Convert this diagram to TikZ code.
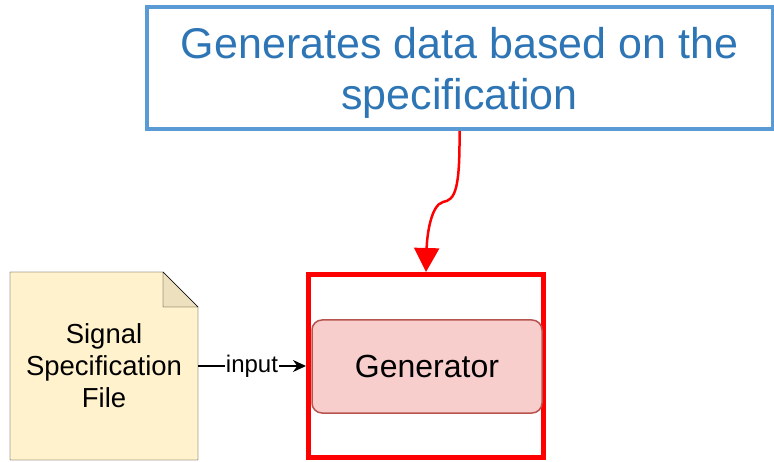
\documentclass[tikz,border=0pt]{standalone}
\usepackage{fontspec}
\setmainfont{Liberation Sans}
\usetikzlibrary{arrows.meta, backgrounds}
\definecolor{descblue}{HTML}{5B9BD5}
\definecolor{desctext}{HTML}{2E75B6}
\definecolor{genfill}{HTML}{F8CECC}
\definecolor{genline}{HTML}{B85450}
\definecolor{notefill}{HTML}{FFF2CC}
\definecolor{noteline}{HTML}{D6B656}
\definecolor{notefold}{HTML}{EDE0BE}

\begin{document}
\begin{tikzpicture}[x=1pt, y=-1pt, line width=2pt,
    desc/.style={draw=descblue, line width=4pt, text=desctext, minimum width=626pt,
      minimum height=122pt, align=center, text depth=0pt, font=\fontsize{43}{51}\selectfont},
    frame/.style={draw=red, line width=5pt, minimum width=235pt, minimum height=183pt},
    gen/.style={draw=genline, fill=genfill, line width=1.5pt, rounded corners=10pt,
      minimum width=230pt, minimum height=93pt, font=\fontsize{32}{37}\selectfont},
    note/.style={minimum width=186pt, minimum height=186pt, align=center,
      font=\fontsize{27.5}{32}\selectfont}]
          \useasboundingbox (0,0) rectangle (774,462);

          \node(D) at (459.5, 68) [desc] {Generates data based on the\\specification};
          \node(F) at (426, 366) [frame] {};
          \node(G) at (427, 366.5) [gen] {Generator};
          \node(S) at (104, 366) [note] {Signal\\Specification\\File};

          \begin{scope}[on background layer, draw=noteline, line width=1.5pt]
            \draw[fill=notefill] (S.north west) -- ([xshift=-35pt]S.north east)
              -- ([yshift=-35pt]S.north east) -- (S.south east) -- (S.south west) -- cycle;
            \draw[fill=notefold] ([xshift=-35pt]S.north east)
              -- ([xshift=-35pt, yshift=-35pt]S.north east) -- ([yshift=-35pt]S.north east) -- cycle;
          \end{scope}

          \draw[red, line width=2.5pt, -{Triangle[length=24pt, width=25pt]}] (D.south)
            .. controls (460,190) and (455,200) .. (443,202)
            .. controls (431,205) and (427,235) .. (F.north);
          \draw[-{Stealth[length=13pt, width=12pt]}, line width=1.5pt] (S.east)
            -- node(I)[fill=white, inner sep=1pt, font=\fontsize{24}{28}\selectfont] {input} (F.west);
        \end{tikzpicture}
\end{document}
